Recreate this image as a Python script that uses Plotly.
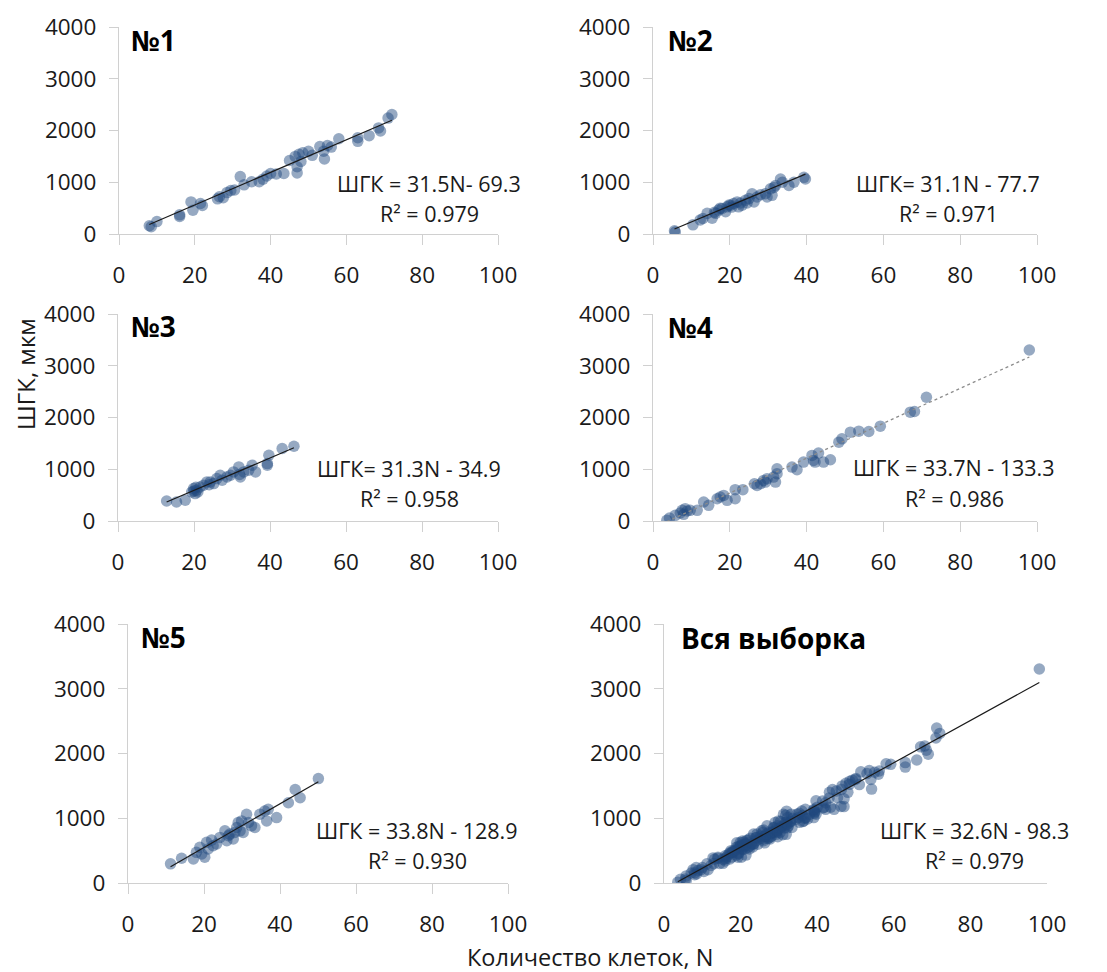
import plotly.graph_objects as go

# ---------------- data ----------------
n1 = [8, 8.5, 10, 16, 16, 19, 19.5, 21.5, 22, 26, 26.5, 27.5, 28.5, 29.5, 30.5, 32, 33, 35, 37, 38,
      39, 40, 41.5, 43.5, 45, 46.5, 47, 47, 47.5, 48, 48.5, 50, 51, 53, 54, 54.2, 55, 56, 58, 63,
      63, 66, 68.5, 69, 71, 72]
v1 = [160, 140, 240, 370, 340, 620, 460, 590, 550, 680, 720, 700, 800, 840, 850, 1110, 950, 1010, 1010, 1060,
      1120, 1170, 1160, 1170, 1420, 1500, 1300, 1180, 1540, 1400, 1570, 1600, 1520, 1690, 1600, 1450, 1710, 1680, 1840, 1860,
      1790, 1900, 2050, 1990, 2240, 2310]

n2 = [5.6, 5.8, 10.4, 12.3, 13, 14.1, 15.4, 16, 16.3, 17.1, 17.5, 18, 18.9, 19.3, 19.8, 20.2, 20.5, 21, 21.9, 22.3,
      22.8, 23.2, 24.1, 24.5, 25, 25.8, 26.3, 27.1, 28, 29.3, 29.7, 30.6, 31, 31.5, 31.9, 33.2, 33.7, 35.4, 36.7, 39.3, 39.7]
v2 = [63, 38, 177, 272, 300, 399, 304, 420, 399, 462, 500, 494, 430, 525, 560, 557, 520, 589, 620, 525,
      600, 557, 652, 600, 684, 778, 620, 715, 760, 778, 715, 873, 747, 900, 937, 1063, 1000, 937, 1000, 1095, 1063]

n3 = [12.8, 15.4, 17.7, 19.4, 19.9, 20, 20.3, 20.5, 20.7, 21, 21.6, 22.5, 23.4, 24, 24.3, 25.2, 26, 26.9, 27.4, 28.7,
      29.6, 30.4, 31.8, 32, 32.2, 33.1, 34.4, 35.3, 36.2, 39.3, 39.7, 39.3, 43.2, 46.3]
v3 = [387, 368, 400, 561, 626, 580, 529, 650, 594, 560, 658, 690, 755, 700, 755, 723, 819, 884, 787, 852,
      884, 948, 1045, 900, 852, 948, 981, 1077, 948, 1110, 1271, 1077, 1400, 1445]

n4 = [3.6, 4.3, 5.8, 7.1, 7.6, 8, 8.4, 8.9, 9.7, 11.5, 13.2, 14.5, 16.7, 17.5, 18.4, 19.3, 21.4, 21.4, 23.4, 26.4,
      27.1, 28, 28.8, 29.3, 29.7, 31.4, 32.3, 32.3, 31.9, 36.2, 37.5, 39.2, 41.4, 41.8, 42.2, 43.1, 44.4, 46.2, 48.4, 49.2,
      51.4, 53.6, 56.2, 59.2, 67, 68.1, 71.2, 98]
v4 = [13, 58, 109, 154, 206, 129, 238, 193, 206, 206, 367, 302, 431, 463, 495, 399, 431, 605, 605, 720,
      688, 720, 785, 752, 817, 849, 1010, 913, 752, 1042, 990, 1138, 1267, 1170, 1138, 1312, 1138, 1183, 1524, 1588,
      1717, 1736, 1730, 1833, 2103, 2116, 2392, 3305]

n5 = [11.2, 14.1, 17.2, 18, 18.9, 19.4, 20.2, 20.7, 21.1, 22, 22.4, 23.3, 24.2, 25.5, 26, 26.4, 26.8, 27.7, 28.1, 28.6,
      29, 29.5, 29.9, 30.3, 31.2, 31.7, 32.5, 33.4, 34.7, 36, 36.5, 36.9, 39.1, 42.2, 44, 45.3, 50.1]
v5 = [296, 383, 372, 474, 551, 449, 398, 628, 526, 663, 577, 602, 704, 806, 653, 730, 755, 679, 781, 857,
      934, 806, 959, 781, 1061, 934, 883, 857, 1061, 1112, 959, 1138, 1010, 1240, 1444, 1316, 1612]

# whole sample = union of the five groups
n6 = n1 + n2 + n3 + n4 + n5
v6 = v1 + v2 + v3 + v4 + v5

titles = ["№1", "№2", "№3", "№4", "№5", "Вся выборка"]
slopes = [31.5, 31.1, 31.3, 33.7, 33.8, 32.6]
intercepts = [-69.3, -77.7, -34.9, -133.3, -128.9, -98.3]
eq_texts = ["ШГК = 31.5N- 69.3", "ШГК= 31.1N - 77.7", "ШГК= 31.3N - 34.9",
            "ШГК = 33.7N - 133.3", "ШГК = 33.8N - 128.9", "ШГК = 32.6N - 98.3"]
r2_texts = ["R² = 0.979", "R² = 0.971", "R² = 0.958", "R² = 0.986", "R² = 0.930", "R² = 0.979"]
x_ticks = [0, 20, 40, 60, 80, 100]
y_ticks = [0, 1000, 2000, 3000, 4000]

groups_n = [n1, n2, n3, n4, n5, n6]
groups_v = [v1, v2, v3, v4, v5, v6]

# ---------------- layout geometry (screen pixels; page has an 8px body margin) ----------------
OFF = 8
W, H = 1107 - OFF, 972 - OFF
panels = [  # left, right, top, bottom
    (119, 498, 27, 234),
    (653, 1037, 27, 234),
    (118, 498, 314, 521),
    (653, 1037, 314, 521),
    (128, 508, 624, 883),
    (664, 1047, 624, 883),
]
title_pos = [(129, 40), (666, 40), (129, 326), (666, 327), (139, 637), (679, 638)]
eq_pos = [(429, 183, 213), (948, 183, 213), (409, 468, 499), (954, 467, 499), (417, 830, 860), (974, 830, 860)]


def px(x):
    return (x - OFF) / W


def py(y):
    return 1 - (y - OFF) / H


FONT = "Open Sans, Liberation Sans, sans-serif"
TXT = "#1a1a1a"

fig = go.Figure()
layout = dict(
    width=W, height=H, margin=dict(l=0, r=0, t=0, b=0, autoexpand=False),
    paper_bgcolor="white", plot_bgcolor="white", showlegend=False,
    font=dict(family=FONT, color=TXT),
)
annotations = []

for i in range(6):
    k = "" if i == 0 else str(i + 1)
    xa, ya = "x" + k, "y" + k
    L, R, T, B = panels[i]
    fig.add_trace(go.Scatter(
        x=groups_n[i], y=groups_v[i], mode="markers", xaxis=xa, yaxis=ya,
        marker=dict(size=11.5, color="rgba(31,73,125,0.47)", line=dict(width=0)),
        hoverinfo="skip"))
    xs = [min(groups_n[i]), max(groups_n[i])]
    ys = [slopes[i] * x + intercepts[i] for x in xs]
    if i == 3:
        line = dict(color="#8c8c8c", width=1.3, dash="dot")
    else:
        line = dict(color="#1a1a1a", width=1.2)
    fig.add_trace(go.Scatter(x=xs, y=ys, mode="lines", xaxis=xa, yaxis=ya, line=line, hoverinfo="skip"))

    layout["xaxis" + k] = dict(
        domain=[px(L), px(R)], anchor=ya, range=[0, 100], tickvals=x_ticks, automargin=False,
        showgrid=False, zeroline=False, showline=True, linecolor="#d0d0d0", linewidth=1.3,
        ticks="outside", ticklen=(0 if i == 5 else 10), tickcolor="#d0d0d0", tickwidth=1.3,
        ticklabelstandoff=(21 if i == 5 else 11), tickfont=dict(size=22.5, family=FONT, color=TXT))
    layout["yaxis" + k] = dict(
        domain=[py(B), py(T)], anchor=xa, range=[0, 4000], tickvals=y_ticks, automargin=False,
        showgrid=False, zeroline=False, showline=True, linecolor="#d0d0d0", linewidth=1.3,
        ticks="outside", ticklen=9, tickcolor="#d0d0d0", tickwidth=1.3,
        ticklabelstandoff=8, tickfont=dict(size=22.5, family=FONT, color=TXT))

    tx, ty = title_pos[i]
    annotations.append(dict(text="<b>" + titles[i] + "</b>", xref="paper", yref="paper",
                            x=px(tx), y=py(ty), xanchor="left", yanchor="middle",
                            showarrow=False, font=dict(size=28, family=FONT, color="black")))
    ex, ey1, ey2 = eq_pos[i]
    annotations.append(dict(text=eq_texts[i], xref="paper", yref="paper",
                            x=px(ex), y=py(ey1), xanchor="center", yanchor="middle",
                            showarrow=False, font=dict(size=21.5, family=FONT, color=TXT)))
    annotations.append(dict(text=r2_texts[i], xref="paper", yref="paper",
                            x=px(ex), y=py(ey2), xanchor="center", yanchor="middle",
                            showarrow=False, font=dict(size=21.5, family=FONT, color=TXT)))

annotations.append(dict(text="ШГК, мкм", xref="paper", yref="paper", x=px(25), y=py(374),
                        xanchor="center", yanchor="middle", textangle=-90, showarrow=False,
                        font=dict(size=24, family=FONT, color=TXT)))
annotations.append(dict(text="Количество клеток, N", xref="paper", yref="paper", x=px(590), y=py(957),
                        xanchor="center", yanchor="middle", showarrow=False,
                        font=dict(size=23.5, family=FONT, color=TXT)))
layout["annotations"] = annotations
fig.update_layout(**layout)
fig.write_html("out.html")
